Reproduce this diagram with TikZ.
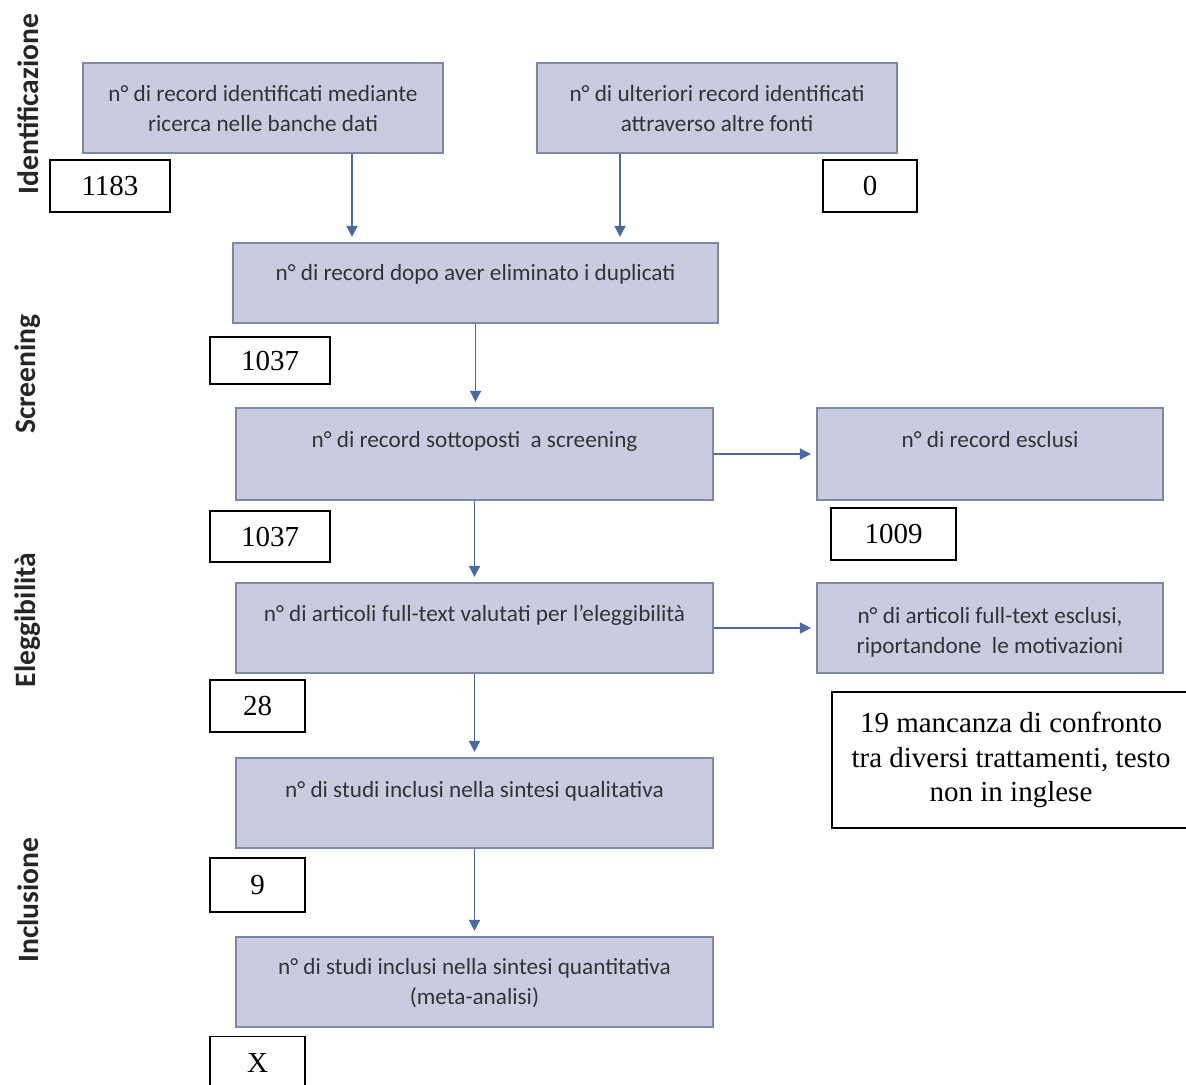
\documentclass[tikz,border=0pt]{standalone}
\usepackage{fontspec}
\setmainfont{Liberation Serif}
\newfontfamily\boxfont{Carlito}
\usetikzlibrary{arrows.meta}
\definecolor{boxfill}{HTML}{C9CCE0}
\definecolor{boxline}{HTML}{7D88A8}
\definecolor{flowblue}{HTML}{4A69A3}
\definecolor{boxink}{HTML}{333333}

\begin{document}
\begin{tikzpicture}[x=0.5pt,y=-0.5pt,
  flowbox/.style={rectangle, draw=boxline, fill=boxfill, line width=1.1pt, inner sep=0pt},
  boxtext/.style={anchor=north, inner sep=0pt, align=center, text=boxink,
    font=\boxfont\fontsize{11.6}{15}\selectfont},
  numbox/.style={rectangle, draw=black, line width=0.6pt, fill=white, inner sep=0pt,
    font=\fontsize{14.5}{17.25}\selectfont},
  phase/.style={rotate=90, inner sep=0pt, text=black!85,
    font=\boxfont\bfseries\fontsize{14.8}{16}\selectfont},
  flow/.style={draw=flowblue, line width=0.8pt, shorten >=2.5pt,
    -{Triangle[length=5.5pt,width=5.5pt]}}]

\useasboundingbox (0,0) rectangle (1186,1084);

% phase labels along the left margin
\node[phase] (pid) at (28,104) {Identificazione};
\node[phase] (psc) at (28,374) {Screening};
\node[phase] (pel) at (28,620) {Eleggibilità};
\node[phase] (pin) at (28,900) {Inclusione};

% flow boxes
\node[flowbox, minimum width=180pt, minimum height=45pt] (b1) at (263,108) {};
\node[flowbox, minimum width=180pt, minimum height=45pt] (b2) at (717,108) {};
\node[flowbox, minimum width=242.5pt, minimum height=40pt] (b3) at (475.5,283) {};
\node[flowbox, minimum width=238.5pt, minimum height=46pt] (b4) at (474.5,454) {};
\node[flowbox, minimum width=173pt, minimum height=46pt] (b5) at (990,454) {};
\node[flowbox, minimum width=238.5pt, minimum height=45pt] (b6) at (474.5,628) {};
\node[flowbox, minimum width=173pt, minimum height=45pt] (b7) at (990,628) {};
\node[flowbox, minimum width=238.5pt, minimum height=45pt] (b8) at (474.5,803) {};
\node[flowbox, minimum width=238.5pt, minimum height=45pt] (b9) at (474.5,982) {};

% box captions, set near the top of each box
\node[boxtext] (t1) at ([yshift=-11.5pt]b1.north) {n° di record identificati mediante\\ricerca nelle banche dati};
\node[boxtext] (t2) at ([yshift=-11.5pt]b2.north) {n° di ulteriori record identificati\\attraverso altre fonti};
\node[boxtext] (t3) at ([yshift=-11pt]b3.north) {n° di record dopo aver eliminato i duplicati};
\node[boxtext] (t4) at ([yshift=-12pt]b4.north) {n° di record sottoposti \ a screening};
\node[boxtext] (t5) at ([yshift=-12pt]b5.north) {n° di record esclusi};
\node[boxtext] (t6) at ([yshift=-11.5pt]b6.north) {n° di articoli full-text valutati per l’eleggibilità};
\node[boxtext] (t7) at ([yshift=-12.5pt]b7.north) {n° di articoli full-text esclusi,\\riportandone \ le motivazioni};
\node[boxtext] (t8) at ([yshift=-12pt]b8.north) {n° di studi inclusi nella sintesi qualitativa};
\node[boxtext] (t9) at ([yshift=-11pt]b9.north) {n° di studi inclusi nella sintesi quantitativa\\(meta-analisi)};

% count boxes
\node[numbox, minimum width=60pt, minimum height=26pt] (n1) at (110,186) {1183};
\node[numbox, minimum width=47pt, minimum height=26pt] (n2) at (870,186) {0};
\node[numbox, minimum width=60pt, minimum height=23.5pt] (n3) at (270,360.5) {1037};
\node[numbox, minimum width=60pt, minimum height=25.5pt] (n4) at (270,536.5) {1037};
\node[numbox, minimum width=62.5pt, minimum height=26pt] (n5) at (893.5,534) {1009};
\node[numbox, minimum width=47.5pt, minimum height=26pt] (n6) at (257.5,706) {28};
\node[numbox, minimum width=179pt, minimum height=68pt, align=center] (n7) at (1011,760)
  {19 mancanza di confronto\\tra diversi trattamenti, testo\\non in inglese};
\node[numbox, minimum width=47.5pt, minimum height=27pt] (n8) at (257.5,885) {9};
\node[numbox, minimum width=47.5pt, minimum height=26.5pt] (n9) at (257.5,1063) {X};

% connectors
\coordinate (c1) at (352,0);
\coordinate (c2) at (620,0);
\draw[flow] (b1.south -| c1) -- (b3.north -| c1);
\draw[flow] (b2.south -| c2) -- (b3.north -| c2);
\draw[flow] (b3.south) -- (b3.south |- b4.north);
\draw[flow] (b4.east) -- (b5.west);
\draw[flow] (b4.south) -- (b6.north);
\draw[flow] (b6.east) -- (b7.west);
\draw[flow] (b6.south) -- (b8.north);
\draw[flow] (b8.south) -- (b9.north);
\end{tikzpicture}
\end{document}
